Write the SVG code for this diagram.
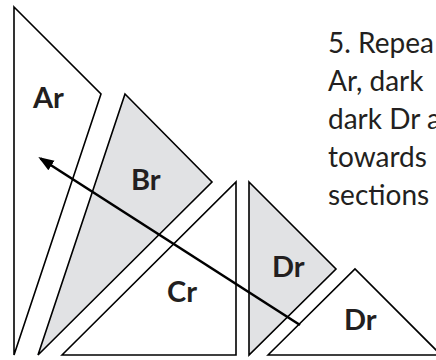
<svg xmlns="http://www.w3.org/2000/svg" width="436" height="360" viewBox="0 0 436 360">
<defs>
<style>
.tri{stroke:#000;stroke-width:1.6;stroke-linejoin:miter}
.w{fill:#fff}
.g{fill:#e1e2e4}
.lbl{font-family:Lato,"Open Sans",sans-serif;font-weight:700;font-size:29px;fill:#231f20}
.txt{font-family:Lato,"Open Sans",sans-serif;font-size:28px;fill:#231f20}
</style>
<marker id="ah" markerWidth="6" markerHeight="6" refX="5" refY="3" orient="auto" markerUnits="strokeWidth">
<path d="M0,0.8 L6,3 L0,5.2 Z" fill="#000"/>
</marker>
</defs>
<rect width="436" height="360" fill="#fff"/>
<g id="Ar">
<polygon class="tri w" points="14,7 101,94 14,355"/>
<text class="lbl" x="33" y="108">Ar</text>
</g>
<g id="Br">
<polygon class="tri g" points="125,94 212,182 38,355"/>
<text class="lbl" x="131" y="190">Br</text>
</g>
<g id="Cr">
<polygon class="tri w" points="62,355 236,182 236,355"/>
<text class="lbl" x="167" y="302">Cr</text>
</g>
<g id="DrDark">
<polygon class="tri g" points="249,182 336,269 249,355"/>
<text class="lbl" x="272" y="277">Dr</text>
</g>
<g id="DrLight">
<polygon class="tri w" points="268,355 355,269 441,355"/>
<text class="lbl" x="344" y="330">Dr</text>
</g>
<g id="caption">
<text class="txt" x="328" y="53">5. Repea</text>
<text class="txt" x="328" y="91">Ar, dark</text>
<text class="txt" x="328" y="129">dark Dr a</text>
<text class="txt" x="328" y="167">towards</text>
<text class="txt" x="328" y="205">sections</text>
</g>
<g id="connectors">
<line x1="300" y1="325" x2="40.5" y2="158.5" stroke="#000" stroke-width="2.6" marker-end="url(#ah)"/>
</g>
</svg>
